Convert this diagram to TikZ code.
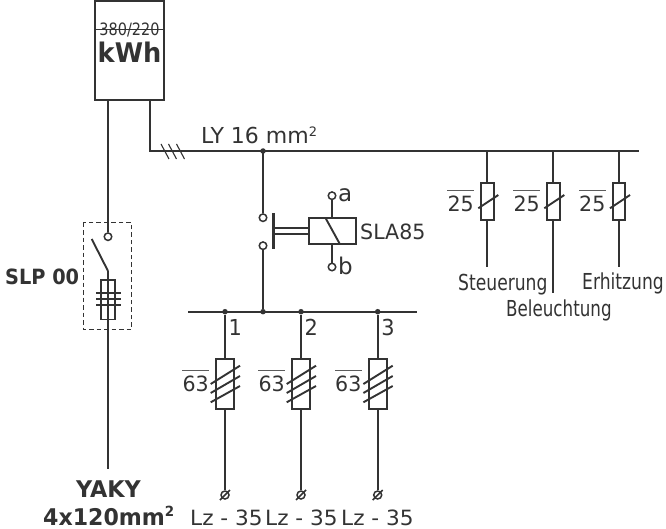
\documentclass[tikz,border=0pt]{standalone}
\usepackage{fontspec}
\usepackage{graphicx}
\setmainfont{DejaVu Sans}
\definecolor{ink}{HTML}{333333}
\tikzset{
  wire/.style={draw=ink,line width=1.9pt},
  thin wire/.style={draw=ink,line width=1.1pt},
  term/.style={circle,draw=ink,fill=white,line width=1.5pt,minimum size=7.5pt,inner sep=0pt},
  dot/.style={circle,fill=ink,minimum size=5.5pt,inner sep=0pt},
  lab/.style={text=ink,inner sep=0pt,anchor=base west,font=\fontsize{21}{21}\selectfont},
  boldlab/.style={text=ink,inner sep=0pt,anchor=base west,font=\fontsize{21}{21}\selectfont\bfseries},
  box/.style={draw=ink,line width=1.9pt,fill=white,inner sep=0pt},
  bar/.style={draw=ink!80,line width=1pt},
}
\newcommand{\nar}[2][0.82]{\scalebox{#1}[1]{#2}}
\begin{document}
\begin{tikzpicture}[x=1pt,y=-1pt]
\useasboundingbox (0,0) rectangle (666,529);
% meter
\node[box,minimum width=69.5pt,minimum height=98.5pt] (meter) at (129.5,50.7) {};
\coordinate (mL) at (94.7,29.5); \coordinate (mR) at (164.3,29.5);
\node[lab,anchor=base,font=\fontsize{17}{17}\selectfont] (volt) at (129.5,36) {\nar[0.85]{380/220}};
\draw[wire] (mL) -- (mR);
\node[boldlab,anchor=base,font=\fontsize{27}{27}\selectfont\bfseries] (kwh) at (129.5,62.3) {\nar[0.95]{kWh}};
% main feed
\coordinate (m1) at (108,100); \coordinate (m2) at (150,100);
\coordinate (corner) at (150,151); \coordinate (busEnd) at (639,151);
\node[term] (sTop) at (108,236.7) {};
\draw[wire] (m1) -- (sTop);
\draw[wire] (m2) -- (corner) -- (busEnd);
\foreach \x in {161,168.5,176.5} \draw[thin wire] (\x,144) -- (\x+8,159);
\node[lab,font=\fontsize{22}{22}\selectfont] (ly) at (201,144) {LY 16 mm\textsuperscript{\fontsize{13}{13}\selectfont 2}};
% SLP
\draw[draw=ink,line width=1pt,dash pattern=on 4.5pt off 3pt] (83.3,222.7) rectangle (131.7,329.3);
\coordinate (bladeTop) at (91.7,239); \coordinate (bladeEnd) at (108,271);
\coordinate (slpEnd) at (108,469);
\draw[wire] (bladeTop) -- (bladeEnd);
\node[box,minimum width=14pt,minimum height=39.5pt] (slpFuse) at (108,299.7) {};
\draw[wire] (bladeEnd) -- (slpEnd);
\foreach \y in {293,299,305} \draw[wire] (96,\y) -- (121,\y);
\node[boldlab] (slp) at (5,284) {\nar[0.92]{SLP 00}};
\node[boldlab,anchor=base,font=\fontsize{23}{23}\selectfont\bfseries] (yaky) at (108.5,497.7) {\nar[0.97]{YAKY}};
\node[boldlab,font=\fontsize{23}{23}\selectfont\bfseries] (cable) at (43,525.5) {\nar[0.96]{4x120mm\textsuperscript{\fontsize{14}{14}\selectfont 2}}};
% contactor
\coordinate (j0) at (263,151);
\node[dot] (j0d) at (j0) {};
\node[term] (cTop) at (263,217.7) {};
\node[term] (cBot) at (263,245.7) {};
\node[dot] (j1) at (263,311.7) {};
\draw[wire] (j0) -- (cTop);
\draw[wire] (cBot) -- (j1);
\coordinate (barT) at (273.7,213); \coordinate (barB) at (273.7,249);
\draw[draw=ink,line width=2.6pt] (barT) -- (barB);
\node[box,minimum width=46.4pt,minimum height=26pt] (coil) at (332.5,231.3) {};
\draw[wire] (273.7,228.3) -- (309.3,228.3);
\draw[wire] (273.7,234) -- (309.3,234);
\draw[wire] (325.7,218.3) -- (340,244.3);
\node[term] (ta) at (332,195.7) {};
\node[term] (tb) at (332,267) {};
\draw[wire] (ta) -- (coil.north-|ta);
\draw[wire] (tb) -- (coil.south-|tb);
\node[lab,font=\fontsize{23}{23}\selectfont] (la) at (338,202) {a};
\node[lab,font=\fontsize{23}{23}\selectfont] (lb) at (338,274) {b};
\node[lab] (sla) at (360,240) {\nar[0.98]{SLA85}};
% lower bus
\coordinate (b2L) at (188,311.7); \coordinate (b2R) at (416.7,311.7);
\draw[wire] (b2L) -- (b2R);
\foreach \x/\n/\k in {225/1/a,301/2/b,377.7/3/c}{
  \node[dot] (d\k) at (\x,311.7) {};
  \node[box,minimum width=18pt,minimum height=50.3pt] (f\k) at (\x,384.2) {};
  \node[lab,font=\fontsize{22}{22}\selectfont] (n\k) at (\x+3.5,335) {\nar[0.95]{\n}};
  \node[circle,draw=ink,line width=1.5pt,minimum size=8pt,inner sep=0pt] (o\k) at (\x,495) {};
  \draw[wire] (d\k) -- (f\k);
  \draw[wire] (f\k) -- (o\k);
  \draw[draw=ink,line width=1.5pt] (\x-5,500) -- (\x+5,490);
  \draw[wire] (\x-14.3,402.3) -- (\x+15,386);
  \draw[wire] (\x-14.3,393) -- (\x+15,376);
  \draw[wire] (\x-14.3,384) -- (\x+15,365.7);
  \node[lab] (v\k) at (\x-42.7,391.7) {\nar[0.98]{63}};
  \draw[bar] ([yshift=5pt]v\k.north west) -- ([yshift=5pt]v\k.north east);
}
\node[lab] (lz1) at (190,525.5) {\nar[1.03]{Lz - 35}};
\node[lab] (lz2) at (265,525.5) {\nar[1.03]{Lz - 35}};
\node[lab] (lz3) at (341,525.5) {\nar[1.03]{Lz - 35}};
% upper fuses
\foreach \x/\k/\e in {487.3/p/267.3,553.3/q/292.7,619/r/267.3}{
  \node[box,minimum width=12.5pt,minimum height=36.7pt] (f\k) at (\x,201.7) {};
  \coordinate (top\k) at (\x,151);
  \coordinate (end\k) at (\x,\e);
  \draw[wire] (top\k) -- (f\k);
  \draw[wire] (f\k) -- (end\k);
  \draw[wire] (\x-9,208.3) -- (\x+11,195);
  \node[lab] (v\k) at (\x-40,211.7) {\nar[0.98]{25}};
  \draw[bar] ([yshift=5pt]v\k.north west) -- ([yshift=5pt]v\k.north east);
}
\node[lab,font=\fontsize{22}{22}\selectfont] (st) at (458,290) {\nar[0.78]{Steuerung}};
\node[lab,font=\fontsize{22}{22}\selectfont] (be) at (506,316.7) {\nar[0.76]{Beleuchtung}};
\node[lab,font=\fontsize{22}{22}\selectfont] (er) at (582,289) {\nar[0.78]{Erhitzung}};
\end{tikzpicture}
\end{document}
